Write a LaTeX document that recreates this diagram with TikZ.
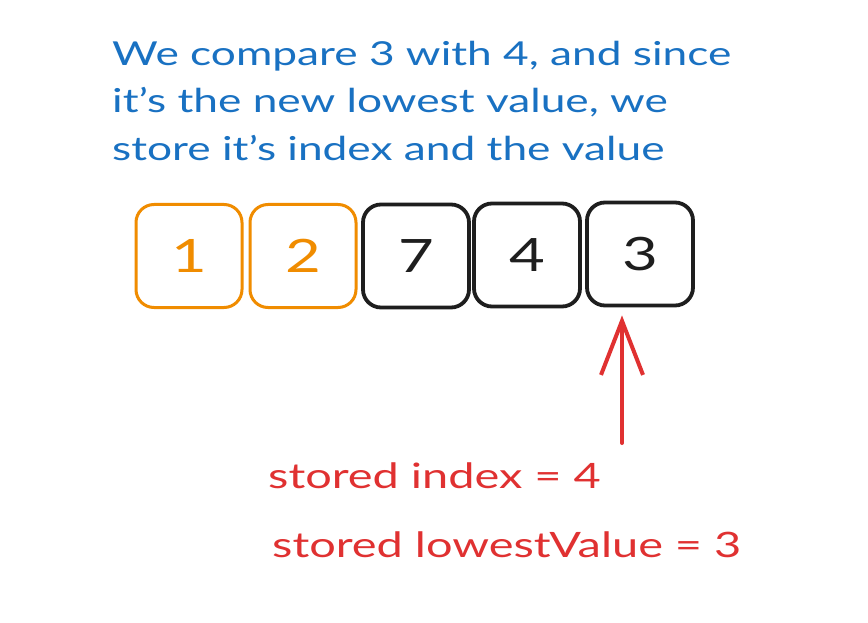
\documentclass[tikz,border=0pt]{standalone}
\usepackage{fontspec}
\setmainfont{Lato}[FakeStretch=1.34]
\usetikzlibrary{arrows.meta}
\definecolor{exblue}{HTML}{1971C2}
\definecolor{exorange}{HTML}{F08C00}
\definecolor{exred}{HTML}{E03131}
\definecolor{exblack}{HTML}{1E1E1E}
\begin{document}
\begin{tikzpicture}[x=1pt,y=-1pt,
  cell/.style={draw, rounded corners=18pt, minimum width=106pt, minimum height=103pt,
    inner sep=0pt, font=\fontsize{46}{50}\selectfont},
  donecell/.style={cell, draw=exorange, text=exorange, line width=3pt},
  todocell/.style={cell, draw=exblack, text=exblack, line width=3.8pt},
  bluetxt/.style={anchor=base west, inner sep=0pt, text=exblue, font=\fontsize{33}{40}\selectfont},
  redtxt/.style={anchor=base west, inner sep=0pt, text=exred, font=\fontsize{35}{40}\selectfont},
  pointer/.style={draw=exred, line width=4pt, line cap=round,
    -{Straight Barb[length=54pt,width=42pt,line width=4pt]}}]
\useasboundingbox (0,0) rectangle (868,623);
\fill[white] (0,0) rectangle (868,623);
\node[bluetxt] (t1) at (112,66) {We compare 3 with 4, and since};
\node[bluetxt] (t2) at (112,113) {it's the new lowest value, we};
\node[bluetxt] (t3) at (112,161) {store it's index and the value};
\node[donecell] (b1) at (189,256) {1};
\node[donecell] (b2) at (303,256) {2};
\node[todocell] (b3) at (416,256) {7};
\node[todocell] (b4) at (527,255) {4};
\node[todocell] (b5) at (640,254) {3};
\coordinate (tail) at (622,443);
\draw[pointer, shorten >=8pt] (tail) -- (b5.south -| tail);
\node[redtxt] (r1) at (268,488) {stored index = 4};
\node[redtxt] (r2) at (272,557) {stored lowestValue = 3};
\end{tikzpicture}
\end{document}
